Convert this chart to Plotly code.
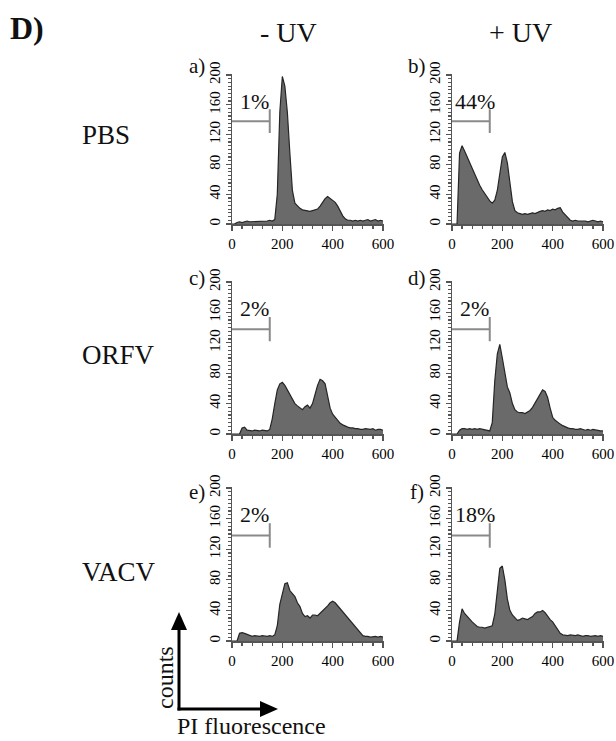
import plotly.graph_objects as go

W, H = 616, 741
FONT = "Liberation Serif, Times New Roman, serif"

# ---- data ----
bins = list(range(0, 601, 10))  # PI fluorescence channel (bin left edges)

counts_a = [0,0,2,3,2,3,4,3,3,4, 3,3,4,3,4,5,4,6,40,150, 198,185,150,95,45,28,24,21,19,18,
            17,17,18,19,20,24,30,34,37,34, 31,29,24,17,11,7,5,5,4,5, 4,5,4,5,6,4,5,6,4,5, 4]
counts_b = [0,0,0,95,105,98,90,82,74,66, 58,52,46,41,36,31,28,32,45,70, 90,96,82,56,30,18,15,14,13,14,
            13,14,15,14,16,17,18,17,19,18, 20,19,21,22,16,12,8,5,4,5, 4,4,5,4,3,4,5,4,3,4, 3]
counts_c = [0,0,0,0,8,9,5,4,4,5, 4,4,5,4,4,6,20,40,58,66, 68,64,58,50,44,40,37,34,32,36,
            38,34,40,52,64,72,70,66,50,34, 26,22,18,14,12,10,9,8,8,7, 7,6,6,7,6,6,7,5,6,6, 5]
counts_d = [0,0,0,5,7,7,6,7,6,7, 6,7,6,6,5,4,15,70,105,118, 100,78,62,54,40,32,29,28,28,27,
            29,31,35,41,48,54,58,56,48,34, 22,18,15,13,11,9,8,7,7,6, 6,7,6,5,6,5,6,5,5,4, 4]
counts_e = [0,0,0,10,11,10,9,7,6,7, 6,6,7,6,6,7,6,8,20,48, 62,75,76,66,62,58,50,45,36,32,
            33,30,34,34,33,36,40,42,46,50, 52,50,46,42,38,34,30,26,22,18, 14,10,7,6,6,5,6,6,5,6, 5]
counts_f = [0,0,0,25,42,36,32,28,25,22, 19,18,18,17,18,19,20,35,62,95, 98,80,55,40,34,30,27,28,30,29,
            28,30,32,36,38,38,40,37,32,28, 25,20,14,10,8,7,7,8,7,7, 8,7,6,7,7,6,7,7,6,7, 6]

panel_letters = ["a)", "b)", "c)", "d)", "e)", "f)"]
panel_counts = [counts_a, counts_b, counts_c, counts_d, counts_e, counts_f]
gate_pct = ["1%", "44%", "2%", "2%", "2%", "18%"]
gate_end = 150          # gate upper limit (PI fluorescence)
gate_level = 138        # height of gate bar (counts)
gate_tick = [122, 154]  # vertical end mark of gate
row_labels = ["PBS", "ORFV", "VACV"]
col_labels = ["- UV", "+ UV"]
x_ticks = [0, 200, 400, 600]
y_ticks = [0, 40, 80, 120, 160, 200]

# ---- layout geometry (pixels) ----
col_px = [(232, 384), (452, 604)]
row_px = [(73.5, 224), (280.5, 434), (486.5, 641)]
letter_y = [66, 278, 492]
row_label_y = [135, 355, 572]

def px(x):
    return x / W

def py(y):
    return 1 - y / H

fig = go.Figure()
layout = dict(
    template="none",
    width=W, height=H, margin=dict(l=0, r=0, t=0, b=0, pad=0, autoexpand=False),
    paper_bgcolor="white", plot_bgcolor="white", showlegend=False,
    font=dict(family=FONT, color="black"),
)
annotations = []
shapes = []

axis_col = "#555555"
for i in range(6):
    r, c = divmod(i, 2)
    n = i + 1
    xa = "x" if n == 1 else f"x{n}"
    ya = "y" if n == 1 else f"y{n}"
    xk = "xaxis" if n == 1 else f"xaxis{n}"
    yk = "yaxis" if n == 1 else f"yaxis{n}"
    x0, x1 = col_px[c]
    yt, yb = row_px[r]
    layout[xk] = dict(
        domain=[px(x0), px(x1)], anchor=ya, range=[0, 604], automargin=False,
        showline=True, linecolor=axis_col, linewidth=1.5,
        ticks="outside", ticklen=5, tickwidth=1.2, tickcolor=axis_col,
        tickmode="array", tickvals=x_ticks, ticktext=[str(v) for v in x_ticks],
        minor=dict(tickmode="linear", tick0=0, dtick=40, ticks="outside",
                   ticklen=3, tickcolor=axis_col, showgrid=False),
        showgrid=False, zeroline=False,
        tickfont=dict(family=FONT, size=15, color="black"),
    )
    layout[yk] = dict(
        domain=[py(yb), py(yt)], anchor=xa, range=[0, 202], automargin=False,
        showline=True, linecolor=axis_col, linewidth=1.5,
        ticks="outside", ticklen=5, tickwidth=1.2, tickcolor=axis_col,
        tickmode="array", tickvals=y_ticks, ticktext=[str(v) for v in y_ticks],
        tickangle=-90,
        minor=dict(tickmode="linear", tick0=0, dtick=5, ticks="outside",
                   ticklen=3, tickcolor=axis_col, showgrid=False),
        showgrid=False, zeroline=False,
        tickfont=dict(family=FONT, size=15, color="black"),
    )
    fig.add_trace(go.Scatter(
        x=bins, y=panel_counts[i], xaxis=xa, yaxis=ya, mode="lines",
        line=dict(shape="linear", color="#262626", width=1.2),
        fill="tozeroy", fillcolor="#6a6a6a", hoverinfo="skip",
    ))
    fig.add_trace(go.Scatter(
        x=[0, gate_end], y=[gate_level, gate_level], xaxis=xa, yaxis=ya,
        mode="lines", line=dict(color="#8a8a8a", width=2), hoverinfo="skip",
    ))
    fig.add_trace(go.Scatter(
        x=[gate_end, gate_end], y=gate_tick, xaxis=xa, yaxis=ya,
        mode="lines", line=dict(color="#8a8a8a", width=2), hoverinfo="skip",
    ))
    annotations.append(dict(
        xref=xa, yref=ya, x=90, y=165, text=gate_pct[i], showarrow=False,
        xanchor="center", yanchor="middle",
        font=dict(family=FONT, size=22, color="#111"),
    ))
    annotations.append(dict(
        xref="paper", yref="paper", x=px(x0 - 35), y=py(letter_y[r]),
        text=panel_letters[i], showarrow=False, xanchor="center", yanchor="middle",
        font=dict(family=FONT, size=21, color="#111"),
    ))

for r, lab in enumerate(row_labels):
    annotations.append(dict(
        xref="paper", yref="paper", x=px(80), y=py(row_label_y[r]), text=lab,
        showarrow=False, xanchor="left", yanchor="middle",
        font=dict(family=FONT, size=27, color="#111"),
    ))
for c, (lab, cx) in enumerate(zip(col_labels, [288, 520])):
    annotations.append(dict(
        xref="paper", yref="paper", x=px(cx), y=py(33), text=lab,
        showarrow=False, xanchor="center", yanchor="middle",
        font=dict(family=FONT, size=28, color="#111"),
    ))
annotations.append(dict(
    xref="paper", yref="paper", x=px(8), y=py(28), text="<b>D)</b>",
    showarrow=False, xanchor="left", yanchor="middle",
    font=dict(family=FONT, size=32, color="#111"),
))
annotations.append(dict(
    xref="paper", yref="paper", x=px(165), y=py(678), text="counts",
    showarrow=False, xanchor="center", yanchor="middle", textangle=-90,
    font=dict(family=FONT, size=24, color="#111"),
))
annotations.append(dict(
    xref="paper", yref="paper", x=px(251), y=py(726), text="PI fluorescence",
    showarrow=False, xanchor="center", yanchor="middle",
    font=dict(family=FONT, size=24, color="#111"),
))

# axis-direction arrows
ox, oy = 179, 709
shapes.append(dict(type="line", xref="paper", yref="paper",
                   x0=px(ox), y0=py(oy + 1.5), x1=px(ox), y1=py(626),
                   line=dict(color="black", width=3)))
shapes.append(dict(type="line", xref="paper", yref="paper",
                   x0=px(ox - 1.5), y0=py(oy), x1=px(264), y1=py(oy),
                   line=dict(color="black", width=3)))
shapes.append(dict(type="path", xref="paper", yref="paper",
                   path=f"M {px(ox)} {py(612)} L {px(ox-8)} {py(630)} L {px(ox+8)} {py(630)} Z",
                   fillcolor="black", line=dict(color="black", width=0)))
shapes.append(dict(type="path", xref="paper", yref="paper",
                   path=f"M {px(278)} {py(oy)} L {px(260)} {py(oy-8)} L {px(260)} {py(oy+8)} Z",
                   fillcolor="black", line=dict(color="black", width=0)))

layout["annotations"] = annotations
layout["shapes"] = shapes
fig.update_layout(**layout)
fig.write_html(
    "out.html",
    config={"displayModeBar": False, "staticPlot": True},
    post_script="document.body.style.margin='0';document.body.style.padding='0';"
                "document.documentElement.style.overflow='hidden';",
)
